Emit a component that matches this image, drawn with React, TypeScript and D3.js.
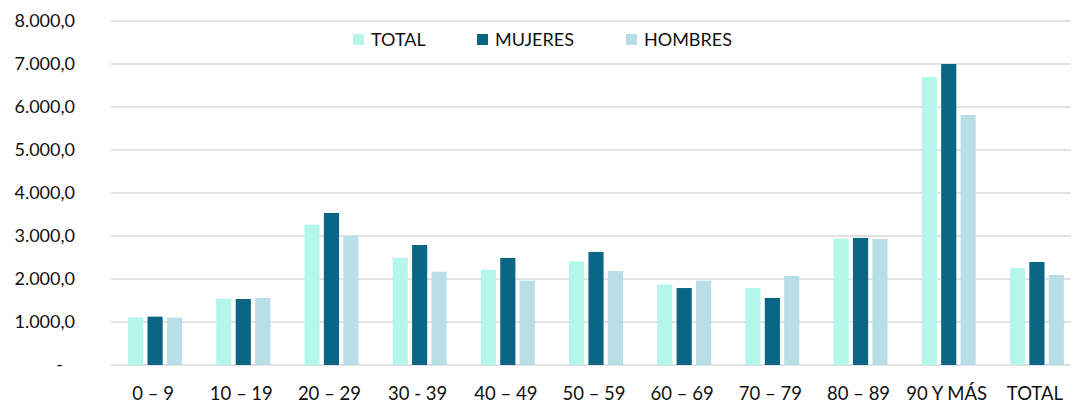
import React, { useEffect, useRef } from "react";
import * as d3 from "d3";

// age groups on the x axis
const groups = ["0 – 9", "10 – 19", "20 – 29", "30 - 39", "40 – 49", "50 – 59", "60 – 69", "70 – 79", "80 – 89", "90 Y MÁS", "TOTAL"];
const seriesNames = ["TOTAL", "MUJERES", "HOMBRES"];
const totalValues = [1110, 1545, 3265, 2490, 2215, 2410, 1870, 1790, 2940, 6700, 2255];
const mujeresValues = [1125, 1535, 3535, 2790, 2490, 2630, 1790, 1560, 2955, 7000, 2395];
const hombresValues = [1100, 1560, 3000, 2170, 1960, 2185, 1960, 2070, 2930, 5815, 2095];
const yTicks = [0, 1000, 2000, 3000, 4000, 5000, 6000, 7000, 8000];

const colors: Record<string, string> = { TOTAL: "#b4f7ea", MUJERES: "#0b6584", HOMBRES: "#b8dfe6" };
const FONT = "Lato, 'DejaVu Sans', sans-serif";

export default function App() {
  const ref = useRef<SVGSVGElement>(null);

  useEffect(() => {
    const width = 1076;
    const height = 405;
    const svg = d3.select(ref.current);
    svg.selectAll("*").remove();
    svg.attr("width", width).attr("height", height);

    const rows = groups.map((g, i) => ({ group: g, TOTAL: totalValues[i], MUJERES: mujeresValues[i], HOMBRES: hombresValues[i] }));

    const plotLeft = 111;
    const gridRight = 1071;
    const x = d3.scaleBand().domain(groups).range([plotLeft, 1081]).paddingInner(0).paddingOuter(0);
    const xInner = d3.scaleBand().domain(seriesNames).range([0, 54]).paddingInner(0.22);
    const y = d3.scaleLinear().domain([0, 8000]).range([365, 21]);

    // spanish number format: 8.000,0
    const fmt = (d: number) => d3.format(",.1f")(d).replace(/,/g, "#").replace(".", ",").replace(/#/g, ".");

    // gridlines
    svg.append("g")
      .selectAll("line")
      .data(yTicks)
      .enter()
      .append("line")
      .attr("x1", plotLeft)
      .attr("x2", gridRight)
      .attr("y1", (d) => y(d))
      .attr("y2", (d) => y(d))
      .attr("stroke", "#d9d9d9")
      .attr("stroke-width", 1.5);

    // y labels
    svg.append("g")
      .selectAll("text")
      .data(yTicks)
      .enter()
      .append("text")
      .attr("x", (d) => (d === 0 ? 63 : 75))
      .attr("y", (d) => y(d))
      .attr("dy", "0.36em")
      .attr("text-anchor", "end")
      .style("font-family", FONT)
      .style("font-size", "18px")
      .style("fill", "#111")
      .text((d) => (d === 0 ? "-" : fmt(d)));

    // bars
    const groupG = svg.append("g")
      .selectAll("g")
      .data(rows)
      .enter()
      .append("g")
      .attr("transform", (d) => `translate(${(x(d.group) as number) + x.bandwidth() / 2 - 27},0)`);

    groupG.selectAll("rect")
      .data((d) => seriesNames.map((s) => ({ key: s, value: (d as any)[s] as number })))
      .enter()
      .append("rect")
      .attr("x", (d) => xInner(d.key) as number)
      .attr("y", (d) => y(d.value))
      .attr("width", xInner.bandwidth())
      .attr("height", (d) => y(0) - y(d.value))
      .attr("fill", (d) => colors[d.key]);

    // x labels
    svg.append("g")
      .selectAll("text")
      .data(groups)
      .enter()
      .append("text")
      .attr("x", (d) => (x(d) as number) + x.bandwidth() / 2 - 2)
      .attr("y", 400)
      .attr("text-anchor", "middle")
      .style("font-family", FONT)
      .style("font-size", "18.5px")
      .style("fill", "#111")
      .text((d) => d);

    // legend
    const legendX = [353, 477, 626];
    const legend = svg.append("g");
    seriesNames.forEach((name, i) => {
      const item = legend.append("g").attr("transform", `translate(${legendX[i]},34)`);
      item.append("rect").attr("width", 11).attr("height", 11).attr("fill", colors[name]);
      item.append("text")
        .attr("x", 18)
        .attr("y", 12)
        .style("font-family", FONT)
        .style("font-size", "18px")
        .style("fill", "#111")
        .text(name);
    });
  }, []);

  return <svg ref={ref} style={{ position: "absolute", left: 0, top: 0, background: "#fff" }} />;
}
